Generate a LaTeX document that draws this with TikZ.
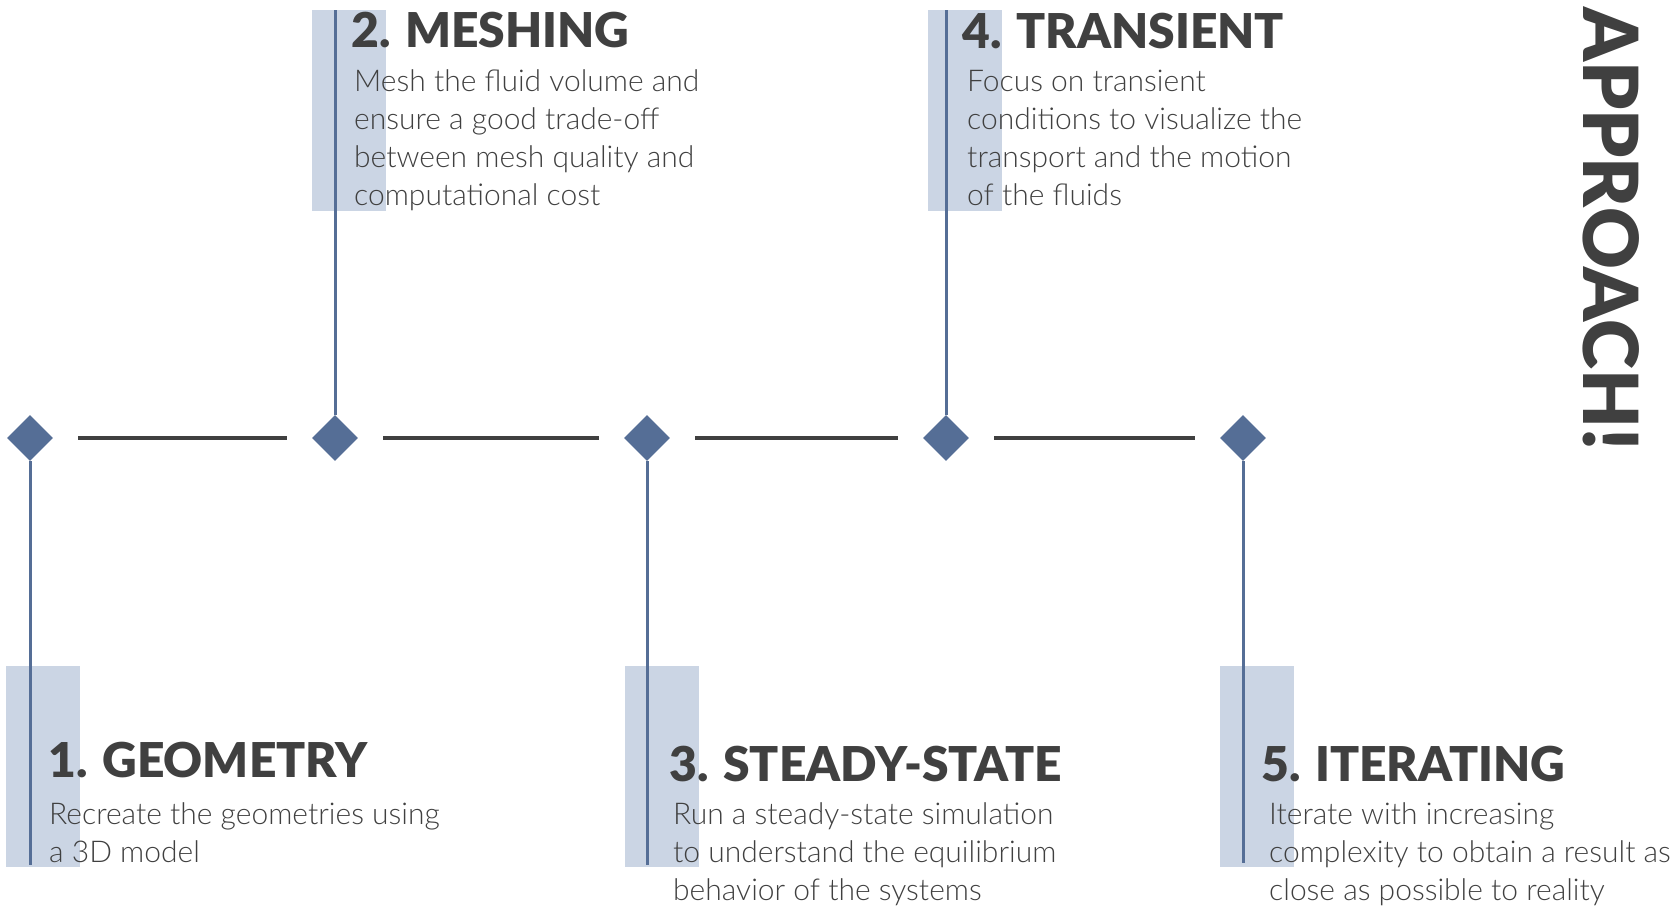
\documentclass[tikz,border=0pt]{standalone}
\usepackage{fontspec}
\setmainfont{Lato}
\newfontfamily\lightfont{Lato Light}
\newfontfamily\heavyfont{Lato Black}
\usetikzlibrary{shapes.geometric, positioning}

\definecolor{stepblue}{HTML}{556E96}
\definecolor{panelblue}{HTML}{CBD5E4}
\definecolor{inkgray}{HTML}{404040}

\begin{document}
\begin{tikzpicture}[x=1pt, y=-1pt,
		stepmark/.style={diamond, fill=stepblue, minimum size=46pt, inner sep=0pt},
		panel/.style={fill=panelblue, anchor=north west, minimum width=74pt, minimum height=201pt, inner sep=0pt},
		stem/.style={draw=stepblue, line width=3pt},
		link/.style={draw=inkgray, line width=4pt, shorten <=25pt, shorten >=25pt},
		steptitle/.style={anchor=base west, inner sep=0pt, text=inkgray, font=\heavyfont\fontsize{48}{52}\selectfont},
		stepdesc/.style={anchor=base west, inner sep=0pt, text=inkgray, align=left, font=\lightfont\fontsize{30}{38}\selectfont}]
	\useasboundingbox (0,0) rectangle (1674,906);
	
	% shaded panels behind the stems
	\node[panel] (p1) at (6,666) {};
	\node[panel] (p2) at (312,10) {};
	\node[panel] (p3) at (625,666) {};
	\node[panel] (p4) at (928,10) {};
	\node[panel] (p5) at (1220,666) {};
	
	% timeline
	\node[stepmark] (d1) at (30,438) {};
	\node[stepmark] (d2) at (335,438) {};
	\node[stepmark] (d3) at (647,438) {};
	\node[stepmark] (d4) at (946,438) {};
	\node[stepmark] (d5) at (1243,438) {};
	
	\draw[link] (d1.east) -- (d2.west);
	\draw[link] (d2.east) -- (d3.west);
	\draw[link] (d3.east) -- (d4.west);
	\draw[link] (d4.east) -- (d5.west);
	
	% stems
	\coordinate (e1) at (30,865);
	\coordinate (t2) at (335,10);
	\coordinate (e3) at (647,865);
	\coordinate (t4) at (946,10);
	\coordinate (e5) at (1243,863);
	\draw[stem] (d1.south) -- (e1);
	\draw[stem] (t2) -- (d2.north);
	\draw[stem] (d3.south) -- (e3);
	\draw[stem] (t4) -- (d4.north);
	\draw[stem] (d5.south) -- (e5);
	
	% steps (descriptions sit on the baseline of their last line)
	\node[steptitle] (g1) at (48,777) {1. GEOMETRY};
	\node[stepdesc] (b1) at (49,862) {Recreate the geometries using\\a 3D model};
	
	\node[steptitle] (g2) at (351,47) {2. MESHING};
	\node[stepdesc] (b2) at (354,205) {Mesh the fluid volume and\\ensure a good trade-off\\between mesh quality and\\computational cost};
	
	\node[steptitle] (g3) at (669,781) {3. STEADY-STATE};
	\node[stepdesc] (b3) at (673,900) {Run a steady-state simulation\\to understand the equilibrium\\behavior of the systems};
	
	\node[steptitle] (g4) at (962,48) {4. TRANSIENT};
	\node[stepdesc] (b4) at (967,205) {Focus on transient\\conditions to visualize the\\transport and the motion\\of the fluids};
	
	\node[steptitle] (g5) at (1261,781) {5. ITERATING};
	\node[stepdesc] (b5) at (1269,900) {Iterate with increasing\\complexity to obtain a result as\\close as possible to reality};
	
	\node[anchor=base west, inner sep=0pt, rotate=-90, text=inkgray, font=\heavyfont\fontsize{76}{80}\selectfont] (head) at (1583,7) {APPROACH!};
\end{tikzpicture}
\end{document}
